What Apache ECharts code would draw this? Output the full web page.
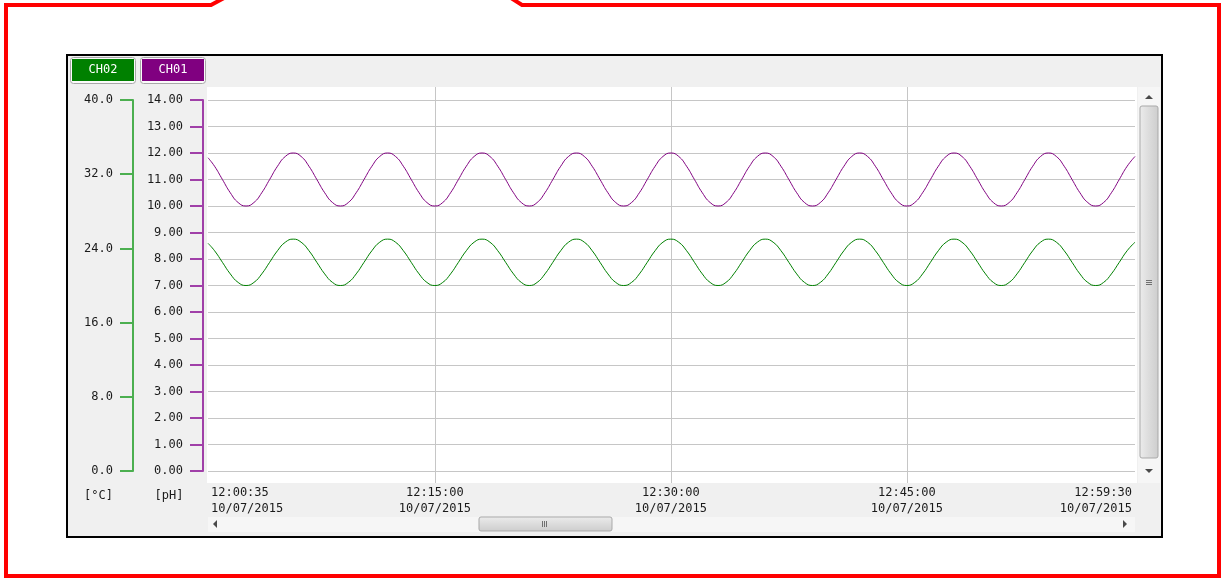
<!DOCTYPE html>
<html>
<head>
<meta charset="utf-8">
<title>CH01 / CH02 trend</title>
<script src="https://cdn.jsdelivr.net/npm/echarts@6/dist/echarts.min.js"></script>
<style>
  html, body { margin: 0; padding: 0; background: #ffffff; }
  #chart { width: 1225px; height: 578px; }
</style>
</head>
<body>
<div id="chart"></div>
<script>
// Sample times, seconds after 12:00:00 on 10/07/2015
const timeSec = [
  35,
  60, 90, 120, 150, 180, 210, 240, 270, 300, 330,
  360, 390, 420, 450, 480, 510, 540, 570, 600, 630, 660, 690,
  720, 750, 780, 810, 840, 870, 900, 930, 960, 990, 1020, 1050,
  1080, 1110, 1140, 1170, 1200, 1230, 1260, 1290, 1320, 1350, 1380, 1410,
  1440, 1470, 1500, 1530, 1560, 1590, 1620, 1650, 1680, 1710, 1740, 1770,
  1800, 1830, 1860, 1890, 1920, 1950, 1980, 2010, 2040, 2070, 2100, 2130,
  2160, 2190, 2220, 2250, 2280, 2310, 2340, 2370, 2400, 2430, 2460, 2490,
  2520, 2550, 2580, 2610, 2640, 2670, 2700, 2730, 2760, 2790, 2820, 2850,
  2880, 2910, 2940, 2970, 3000, 3030, 3060, 3090, 3120, 3150, 3180, 3210,
  3240, 3270, 3300, 3330, 3360, 3390, 3420, 3450, 3480, 3510, 3540, 3570
];

// CH01 — pH
const ch01Ph = [
  11.82,
  11.50, 11.00, 10.50, 10.13, 10.00, 10.13, 10.50, 11.00, 11.50, 11.87,
  12.00, 11.87, 11.50, 11.00, 10.50, 10.13, 10.00, 10.13, 10.50, 11.00, 11.50, 11.87,
  12.00, 11.87, 11.50, 11.00, 10.50, 10.13, 10.00, 10.13, 10.50, 11.00, 11.50, 11.87,
  12.00, 11.87, 11.50, 11.00, 10.50, 10.13, 10.00, 10.13, 10.50, 11.00, 11.50, 11.87,
  12.00, 11.87, 11.50, 11.00, 10.50, 10.13, 10.00, 10.13, 10.50, 11.00, 11.50, 11.87,
  12.00, 11.87, 11.50, 11.00, 10.50, 10.13, 10.00, 10.13, 10.50, 11.00, 11.50, 11.87,
  12.00, 11.87, 11.50, 11.00, 10.50, 10.13, 10.00, 10.13, 10.50, 11.00, 11.50, 11.87,
  12.00, 11.87, 11.50, 11.00, 10.50, 10.13, 10.00, 10.13, 10.50, 11.00, 11.50, 11.87,
  12.00, 11.87, 11.50, 11.00, 10.50, 10.13, 10.00, 10.13, 10.50, 11.00, 11.50, 11.87,
  12.00, 11.87, 11.50, 11.00, 10.50, 10.13, 10.00, 10.13, 10.50, 11.00, 11.50, 11.87
];

// CH02 — temperature, °C
const ch02Temp = [
  24.55,
  23.75, 22.50, 21.25, 20.33, 20.00, 20.33, 21.25, 22.50, 23.75, 24.67,
  25.00, 24.67, 23.75, 22.50, 21.25, 20.33, 20.00, 20.33, 21.25, 22.50, 23.75, 24.67,
  25.00, 24.67, 23.75, 22.50, 21.25, 20.33, 20.00, 20.33, 21.25, 22.50, 23.75, 24.67,
  25.00, 24.67, 23.75, 22.50, 21.25, 20.33, 20.00, 20.33, 21.25, 22.50, 23.75, 24.67,
  25.00, 24.67, 23.75, 22.50, 21.25, 20.33, 20.00, 20.33, 21.25, 22.50, 23.75, 24.67,
  25.00, 24.67, 23.75, 22.50, 21.25, 20.33, 20.00, 20.33, 21.25, 22.50, 23.75, 24.67,
  25.00, 24.67, 23.75, 22.50, 21.25, 20.33, 20.00, 20.33, 21.25, 22.50, 23.75, 24.67,
  25.00, 24.67, 23.75, 22.50, 21.25, 20.33, 20.00, 20.33, 21.25, 22.50, 23.75, 24.67,
  25.00, 24.67, 23.75, 22.50, 21.25, 20.33, 20.00, 20.33, 21.25, 22.50, 23.75, 24.67,
  25.00, 24.67, 23.75, 22.50, 21.25, 20.33, 20.00, 20.33, 21.25, 22.50, 23.75, 24.67
];

// Time-axis labels and vertical grid lines
const xLabelSec = [35, 900, 1800, 2700, 3570];
const xGridSec = [900, 1800, 2700];
const dateText = '10/07/2015';

const seriesNames = ['CH02', 'CH01'];
const seriesColors = { CH02: '#008000', CH01: '#800080' };
const axisColors = { CH02: '#4caf50', CH01: '#a040a8' };
const unitNames = { CH02: '[°C]', CH01: '[pH]' };

const MONO = '"DejaVu Sans Mono", "Liberation Mono", monospace';
const TEXT = '#1a1a1a';

function pad2(n) { return (n < 10 ? '0' : '') + n; }
function clockLabel(sec) {
  const h = 12 + Math.floor(sec / 3600);
  const m = Math.floor((sec % 3600) / 60);
  const s = sec % 60;
  return pad2(h) + ':' + pad2(m) + ':' + pad2(s) + '\n' + dateText;
}

const phData = timeSec.map((t, i) => [t, ch01Ph[i]]);
const tempData = timeSec.map((t, i) => [t, ch02Temp[i]]);

// Window chrome: callout frame, panel, plot background, scroll bars, button frames
const chrome = [
  { type: 'polyline', z: -100, shape: { points: [[224, -2], [211, 5], [6, 5], [6, 576], [1219, 576], [1219, 5], [522, 5], [511, -2]] },
    style: { stroke: '#ff0000', lineWidth: 4, fill: null, lineJoin: 'miter' } },
  { type: 'rect', z: -90, shape: { x: 67, y: 55, width: 1095, height: 482 },
    style: { fill: '#f0f0f0', stroke: '#000000', lineWidth: 2 } },
  { type: 'rect', z: -80, shape: { x: 207, y: 87, width: 930, height: 396 },
    style: { fill: '#ffffff' } },
  // vertical scroll bar
  { type: 'rect', z: -80, shape: { x: 1138, y: 87, width: 22, height: 396 },
    style: { fill: '#f6f6f6' } },
  { type: 'rect', z: -70, shape: { x: 1140, y: 106, width: 18, height: 352, r: 2 },
    style: { fill: { type: 'linear', x: 0, y: 0, x2: 1, y2: 0, colorStops: [
      { offset: 0, color: '#ececec' }, { offset: 0.5, color: '#dcdcdc' }, { offset: 1, color: '#cdcdcd' } ] },
      stroke: '#a9a9a9', lineWidth: 1 } },
  { type: 'polyline', z: -60, shape: { points: [[1146, 280.5], [1152, 280.5]] }, style: { stroke: '#707070', lineWidth: 1 } },
  { type: 'polyline', z: -60, shape: { points: [[1146, 282.5], [1152, 282.5]] }, style: { stroke: '#707070', lineWidth: 1 } },
  { type: 'polyline', z: -60, shape: { points: [[1146, 284.5], [1152, 284.5]] }, style: { stroke: '#707070', lineWidth: 1 } },
  { type: 'polygon', z: -60, shape: { points: [[1145, 99], [1153, 99], [1149, 95]] }, style: { fill: '#4a4a4a' } },
  { type: 'polygon', z: -60, shape: { points: [[1145, 469], [1153, 469], [1149, 473]] }, style: { fill: '#4a4a4a' } },
  // horizontal scroll bar
  { type: 'rect', z: -80, shape: { x: 208, y: 517, width: 927, height: 15 },
    style: { fill: '#f6f6f6' } },
  { type: 'rect', z: -70, shape: { x: 479, y: 517, width: 133, height: 14, r: 2 },
    style: { fill: { type: 'linear', x: 0, y: 0, x2: 0, y2: 1, colorStops: [
      { offset: 0, color: '#ececec' }, { offset: 0.5, color: '#dcdcdc' }, { offset: 1, color: '#cdcdcd' } ] },
      stroke: '#a9a9a9', lineWidth: 1 } },
  { type: 'polyline', z: -60, shape: { points: [[542.5, 521], [542.5, 527]] }, style: { stroke: '#707070', lineWidth: 1 } },
  { type: 'polyline', z: -60, shape: { points: [[544.5, 521], [544.5, 527]] }, style: { stroke: '#707070', lineWidth: 1 } },
  { type: 'polyline', z: -60, shape: { points: [[546.5, 521], [546.5, 527]] }, style: { stroke: '#707070', lineWidth: 1 } },
  { type: 'polygon', z: -60, shape: { points: [[217, 520], [217, 528], [213, 524]] }, style: { fill: '#4a4a4a' } },
  { type: 'polygon', z: -60, shape: { points: [[1123, 520], [1123, 528], [1127, 524]] }, style: { fill: '#4a4a4a' } },
  // legend button frames
  { type: 'rect', z: -60, shape: { x: 70.5, y: 57.5, width: 65, height: 26, r: 3 },
    style: { fill: '#fbfbfb', stroke: '#a8a8a8', lineWidth: 1 } },
  { type: 'rect', z: -60, shape: { x: 140.5, y: 57.5, width: 65, height: 26, r: 3 },
    style: { fill: '#fbfbfb', stroke: '#a8a8a8', lineWidth: 1 } }
];

const buttonRich = {};
seriesNames.forEach(n => {
  buttonRich[n] = {
    backgroundColor: seriesColors[n], color: '#ffffff', width: 62, height: 22,
    lineHeight: 22, align: 'center', fontFamily: MONO, fontSize: 12
  };
});

const chart = echarts.init(document.getElementById('chart'), null, { renderer: 'canvas' });

chart.setOption({
  animation: false,
  backgroundColor: '#ffffff',
  graphic: { elements: chrome },
  legend: {
    left: 67, top: 59, padding: 0,
    icon: 'none', itemWidth: 0, itemHeight: 22, itemGap: 3,
    selectedMode: false,
    data: seriesNames,
    formatter: name => '{' + name + '|' + name + '}',
    textStyle: { rich: buttonRich }
  },
  grid: [
    // full plot area, carries the time labels and vertical grid lines
    { left: 208, right: 90, top: 87, bottom: 95 },
    // value area between 0 and full scale
    { left: 208, right: 90, top: 100, bottom: 107 }
  ],
  xAxis: [
    {
      type: 'value', gridIndex: 0, min: 35, max: 3570,
      axisLine: { show: false },
      axisTick: { show: false, customValues: xGridSec },
      splitLine: { show: true, lineStyle: { color: '#c6c6c6', width: 1 } },
      axisLabel: {
        customValues: xLabelSec,
        formatter: v => clockLabel(v),
        alignMinLabel: 'left', alignMaxLabel: 'right',
        padding: [0, 3, 0, 3],
        margin: 2, fontFamily: MONO, fontSize: 12, lineHeight: 16, color: TEXT
      }
    },
    { type: 'value', gridIndex: 1, min: 35, max: 3570, show: false }
  ],
  yAxis: [
    { type: 'value', gridIndex: 0, min: 0, max: 1, show: false },
    {
      type: 'value', gridIndex: 1, position: 'left', offset: 5,
      min: 0, max: 14, interval: 1,
      name: unitNames.CH01, nameLocation: 'start', nameGap: 19,
      nameTextStyle: { fontFamily: MONO, fontSize: 12, color: TEXT, padding: [0, 68, 0, 0] },
      axisLine: { show: true, lineStyle: { color: axisColors.CH01, width: 2 } },
      axisTick: { show: true, length: 13, lineStyle: { color: axisColors.CH01, width: 2 } },
      axisLabel: { margin: 20, formatter: v => v.toFixed(2), fontFamily: MONO, fontSize: 12, color: TEXT },
      splitLine: { show: true, lineStyle: { color: '#c6c6c6', width: 1 } }
    },
    {
      type: 'value', gridIndex: 1, position: 'left', offset: 75,
      min: 0, max: 40, interval: 8,
      name: unitNames.CH02, nameLocation: 'start', nameGap: 19,
      nameTextStyle: { fontFamily: MONO, fontSize: 12, color: TEXT, padding: [0, 69, 0, 0] },
      axisLine: { show: true, lineStyle: { color: axisColors.CH02, width: 2 } },
      axisTick: { show: true, length: 13, lineStyle: { color: axisColors.CH02, width: 2 } },
      axisLabel: { margin: 20, formatter: v => v.toFixed(1), fontFamily: MONO, fontSize: 12, color: TEXT },
      splitLine: { show: false }
    }
  ],
  series: [
    {
      name: 'CH02', type: 'line', xAxisIndex: 1, yAxisIndex: 2,
      data: tempData, smooth: true, showSymbol: false,
      lineStyle: { color: seriesColors.CH02, width: 1 },
      itemStyle: { color: seriesColors.CH02 }
    },
    {
      name: 'CH01', type: 'line', xAxisIndex: 1, yAxisIndex: 1,
      data: phData, smooth: true, showSymbol: false,
      lineStyle: { color: seriesColors.CH01, width: 1 },
      itemStyle: { color: seriesColors.CH01 }
    }
  ]
});
</script>
</body>
</html>
